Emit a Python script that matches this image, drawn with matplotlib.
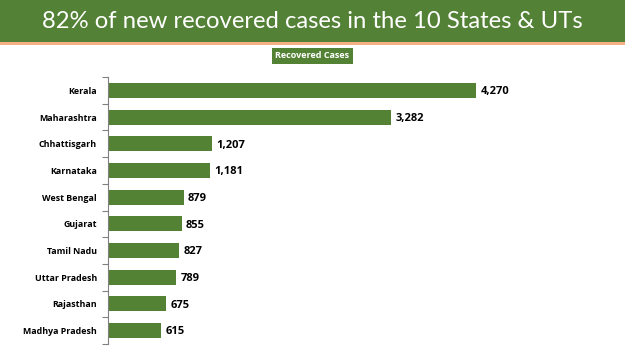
import matplotlib
matplotlib.use("Agg")
import matplotlib.pyplot as plt
import numpy as np

# data
states = ['Kerala', 'Maharashtra', 'Chhattisgarh', 'Karnataka', 'West Bengal',
          'Gujarat', 'Tamil Nadu', 'Uttar Pradesh', 'Rajasthan', 'Madhya Pradesh']
recovered = [4270, 3282, 1207, 1181, 879, 855, 827, 789, 675, 615]

title = '82% of new recovered cases in the 10 States & UTs'
legend_label = 'Recovered Cases'

green = '#548235'
banner = '#538135'
orange = '#F4B183'

plt.rcParams['font.family'] = ['Lato', 'DejaVu Sans']
bold_font = ['Open Sans', 'DejaVu Sans']

fig = plt.figure(figsize=(6.25, 3.51), dpi=100)
fig.patch.set_facecolor('white')

# title banner
fig.patches.append(plt.Rectangle((0, 1 - 42 / 351), 1, 42 / 351, transform=fig.transFigure,
                                 facecolor=banner, edgecolor='none', zorder=0))
fig.patches.append(plt.Rectangle((0, 1 - 45 / 351), 1, 3 / 351, transform=fig.transFigure,
                                 facecolor=orange, edgecolor='none', zorder=0))
fig.text(0.5, 1 - 21 / 351, title, color='white', fontsize=17.2, ha='center', va='center')

# legend-like label box
fig.text(0.5, 1 - 56 / 351, legend_label, color='white', fontsize=6.5, fontweight='bold',
         family=bold_font, ha='center', va='center',
         bbox=dict(boxstyle='square,pad=0.35', facecolor=green, edgecolor='none'))

ax = fig.add_axes([108 / 625, 7 / 351, 431 / 625, 267 / 351])
y = np.arange(len(states))
ax.barh(y, recovered, height=0.56, color=green)
ax.set_ylim(len(states) - 0.5, -0.5)
ax.set_xlim(0, 5000)

for yi, v in zip(y, recovered):
    ax.text(v + 50, yi + 0.05, f'{v:,}', va='center', ha='left', fontsize=8, fontweight='bold',
            family=bold_font, color='black')

ax.set_yticks(y)
ax.set_yticklabels(states, fontsize=6.4, fontweight='bold', family=bold_font)
ax.set_yticks(np.arange(len(states) + 1) - 0.5, minor=True)
ax.tick_params(axis='y', which='major', length=0, pad=8)
ax.tick_params(axis='y', which='minor', length=4, color='#808080', width=0.8)
ax.set_xticks([])
for s in ['top', 'right', 'bottom']:
    ax.spines[s].set_visible(False)
ax.spines['left'].set_color('#808080')
ax.spines['left'].set_linewidth(0.8)

fig.savefig('out.png', dpi=100)
